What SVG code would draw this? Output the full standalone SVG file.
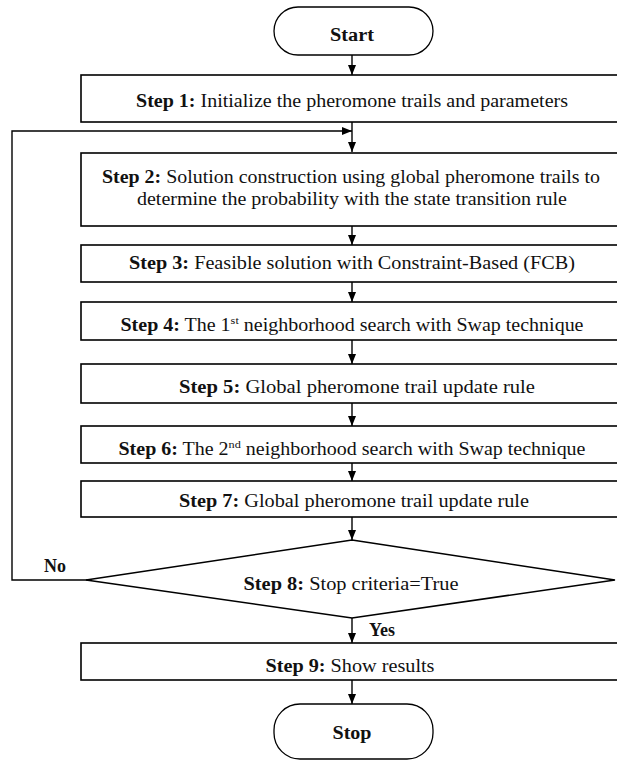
<svg xmlns="http://www.w3.org/2000/svg" width="617" height="761" viewBox="0 0 617 761">
<style>
.box{fill:#fff;stroke:#000;stroke-width:1.6}
.term{fill:#fff;stroke:#000;stroke-width:1.3}
.t{font-family:"Liberation Serif","Times New Roman",serif;font-size:18px;fill:#111;text-anchor:middle}
.b{font-weight:bold}
.conn{fill:none;stroke:#000;stroke-width:1.4}
</style>
<defs>
<marker id="ah" markerUnits="userSpaceOnUse" markerWidth="10" markerHeight="10" viewBox="0 0 10 10" refX="10" refY="5" orient="auto">
<path d="M0,1 L10,5 L0,9 Z" fill="#000"/>
</marker>
</defs>
<rect width="617" height="761" fill="#fff"/>
<g id="connectors">
<line class="conn" x1="352" y1="55" x2="352" y2="75" marker-end="url(#ah)"/>
<line class="conn" x1="352" y1="122" x2="352" y2="152" marker-end="url(#ah)"/>
<polyline class="conn" points="88,580 12,580 12,131 352,131" marker-end="url(#ah)"/>
<line class="conn" x1="352" y1="226" x2="352" y2="245" marker-end="url(#ah)"/>
<line class="conn" x1="352" y1="282" x2="352" y2="302" marker-end="url(#ah)"/>
<line class="conn" x1="352" y1="340" x2="352" y2="364" marker-end="url(#ah)"/>
<line class="conn" x1="352" y1="403" x2="352" y2="426" marker-end="url(#ah)"/>
<line class="conn" x1="352" y1="463" x2="352" y2="481" marker-end="url(#ah)"/>
<line class="conn" x1="352" y1="517" x2="352" y2="540" marker-end="url(#ah)"/>
<line class="conn" x1="352" y1="618" x2="352" y2="643" marker-end="url(#ah)"/>
<line class="conn" x1="352" y1="680" x2="352" y2="704" marker-end="url(#ah)"/>
<text class="t b" x="55" y="572">No</text>
<text class="t b" x="382" y="636">Yes</text>
</g>
<g id="start">
<rect class="term" x="274" y="7" width="159" height="48" rx="24" ry="24"/>
<text class="t b" x="352" y="41" textLength="44" lengthAdjust="spacingAndGlyphs">Start</text>
</g>
<g id="step1">
<rect class="box" x="81" y="75" width="544" height="47"/>
<text class="t" x="352" y="107" textLength="432" lengthAdjust="spacingAndGlyphs"><tspan class="b">Step 1:</tspan> Initialize the pheromone trails and parameters</text>
</g>
<g id="step2">
<rect class="box" x="81" y="153" width="544" height="73"/>
<text class="t" x="351" y="183" textLength="498" lengthAdjust="spacingAndGlyphs"><tspan class="b">Step 2:</tspan> Solution construction using global pheromone trails to</text>
<text class="t" x="352" y="205" textLength="430" lengthAdjust="spacingAndGlyphs">determine the probability with the state transition rule</text>
</g>
<g id="step3">
<rect class="box" x="81" y="245" width="544" height="37"/>
<text class="t" x="352" y="269" textLength="446" lengthAdjust="spacingAndGlyphs"><tspan class="b">Step 3:</tspan>  Feasible solution with Constraint-Based (FCB)</text>
</g>
<g id="step4">
<rect class="box" x="81" y="302" width="544" height="38"/>
<text class="t" x="352" y="331" textLength="463" lengthAdjust="spacingAndGlyphs"><tspan class="b">Step 4:</tspan> The 1<tspan font-size="11" dy="-7">st</tspan><tspan dy="7"> neighborhood search with Swap technique</tspan></text>
</g>
<g id="step5">
<rect class="box" x="81" y="364" width="544" height="39"/>
<text class="t" x="357" y="393" textLength="356" lengthAdjust="spacingAndGlyphs"><tspan class="b">Step 5:</tspan> Global pheromone trail update rule</text>
</g>
<g id="step6">
<rect class="box" x="81" y="426" width="544" height="37"/>
<text class="t" x="352" y="455" textLength="467" lengthAdjust="spacingAndGlyphs"><tspan class="b">Step 6:</tspan> The 2<tspan font-size="11" dy="-7">nd</tspan><tspan dy="7"> neighborhood search with Swap technique</tspan></text>
</g>
<g id="step7">
<rect class="box" x="81" y="481" width="544" height="36"/>
<text class="t" x="354" y="507" textLength="350" lengthAdjust="spacingAndGlyphs"><tspan class="b">Step 7:</tspan> Global pheromone trail update rule</text>
</g>
<g id="step8">
<polygon class="box" points="352,540 615,580 352,618 86,580"/>
<text class="t" x="351" y="590" textLength="215" lengthAdjust="spacingAndGlyphs"><tspan class="b">Step 8:</tspan> Stop criteria=True</text>
</g>
<g id="step9">
<rect class="box" x="81" y="643" width="544" height="37"/>
<text class="t" x="350" y="672" textLength="169" lengthAdjust="spacingAndGlyphs"><tspan class="b">Step 9:</tspan> Show results</text>
</g>
<g id="stop">
<rect class="term" x="274" y="704" width="159" height="55" rx="26" ry="26"/>
<text class="t b" x="352" y="739" textLength="39" lengthAdjust="spacingAndGlyphs">Stop</text>
</g>
</svg>
